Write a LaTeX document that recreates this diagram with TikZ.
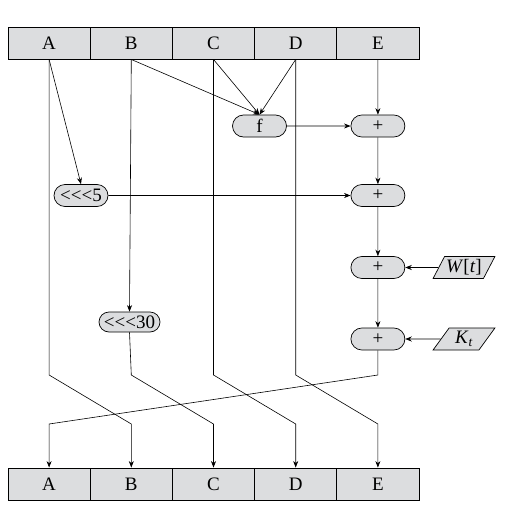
\documentclass[tikz,border=0pt]{standalone}
\usepackage{fontspec}
\setmainfont{Liberation Serif}[Ligatures=TeXOff]
\usetikzlibrary{arrows.meta,shapes.geometric,shapes.misc}
\definecolor{boxgray}{HTML}{DCDDDF}
\tikzset{reg/.style={rectangle,draw,line width=0.9pt,fill=boxgray,minimum width=82.2pt,minimum height=32pt,inner sep=0pt},
op/.style={rounded rectangle,draw,line width=0.7pt,fill=boxgray,minimum width=56pt,minimum height=22pt,inner sep=1pt},
inp/.style={trapezium,trapezium left angle=58,trapezium right angle=122,trapezium stretches=true,draw,line width=0.7pt,fill=boxgray,minimum width=62pt,minimum height=22pt,inner sep=1pt},
arr/.style={-{Stealth[length=6.5pt,width=5pt]}}}
\begin{document}
\begin{tikzpicture}[x=1pt,y=-1pt,font=\fontsize{19}{21}\selectfont,line width=0.6pt]
  \useasboundingbox (0,0) rectangle (510,517);
  % registers
  \foreach \n [count=\i] in {A,B,C,D,E}{
    \node[reg] (t\n) at ({8+82.2*(\i-0.5)},43) {\n};
    \node[reg] (b\n) at ({8+82.2*(\i-0.5)},484) {\n};
  }
  % round function
  \node[op] (f) at (259.5,126) {f};
  \node[op] (p1) at (377.9,126) {+};
  \node[op] (p2) at (377.9,195.5) {+};
  \node[op] (p3) at (377.9,267.5) {+};
  \node[op] (p4) at (377.9,339) {+};
  \node[op] (r5) at (81,195.5) {<<<5};
  \node[op,minimum width=63pt,minimum height=20pt] (r30) at (129.5,322) {<<<30};
  \node[inp] (w) at (464,267.5) {\textit{W}[\textit{t}]};
  \node[inp] (k) at (464,339) {\textit{K}\textsubscript{\textit{t}}};
  % bends
  \coordinate (a1) at (49.1,375);  \coordinate (a2) at (131.3,424);
  \coordinate (b1) at (131.3,375); \coordinate (b2) at (213.5,424);
  \coordinate (c1) at (213.5,375); \coordinate (c2) at (295.7,424);
  \coordinate (d1) at (295.7,375); \coordinate (d2) at (377.9,424);
  \coordinate (e1) at (377.9,375); \coordinate (e2) at (49.1,424);
  \draw[arr] (tA.south) -- (r5.north);
  \draw[arr] (tB.south) -- (f.north);
  \draw[arr] (tC.south) -- (f.north);
  \draw[arr] (tD.south) -- (f.north);
  \draw[arr] (tE.south) -- (p1.north);
  \draw[arr] (tB.south) -- (r30.north);
  \draw[arr] (f) -- (p1);
  \draw[arr] (r5) -- (p2);
  \draw[arr] (w) -- (p3);
  \draw[arr] (k) -- (p4);
  \draw[arr] (p1) -- (p2);
  \draw[arr] (p2) -- (p3);
  \draw[arr] (p3) -- (p4);
  \draw[arr] (tA.south) -- (a1) -- (a2) -- (bB.north);
  \draw[arr] (r30.south) -- (b1) -- (b2) -- (bC.north);
  \draw[arr] (tC.south) -- (c1) -- (c2) -- (bD.north);
  \draw[arr] (tD.south) -- (d1) -- (d2) -- (bE.north);
  \draw[arr] (p4.south) -- (e1) -- (e2) -- (bA.north);
\end{tikzpicture}
\end{document}
